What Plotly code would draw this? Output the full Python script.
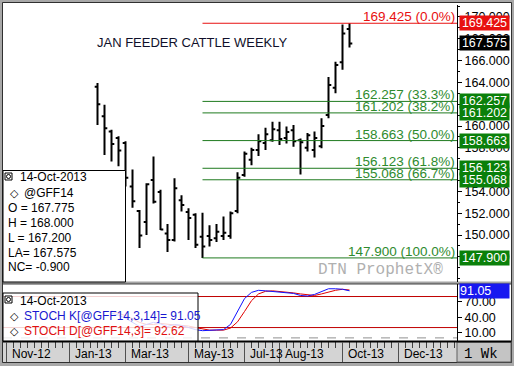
import plotly.graph_objects as go

W, H = 514, 366
def px(x): return x / W
def py(y): return 1 - y / H

# ---------------- data ----------------
bar_dates = ["2013-02-04", "2013-02-11", "2013-02-18", "2013-02-25", "2013-03-04", "2013-03-11",
             "2013-03-18", "2013-03-25", "2013-04-01", "2013-04-08", "2013-04-15", "2013-04-22",
             "2013-04-29", "2013-05-06", "2013-05-13", "2013-05-20", "2013-05-27", "2013-06-03",
             "2013-06-10", "2013-06-17", "2013-06-24", "2013-07-01", "2013-07-08", "2013-07-15",
             "2013-07-22", "2013-07-29", "2013-08-05", "2013-08-12", "2013-08-19", "2013-08-26",
             "2013-09-02", "2013-09-09", "2013-09-16", "2013-09-23", "2013-09-30", "2013-10-07",
             "2013-10-14"]
opens = [163.6, 160.9, 159.5, 158.9, 158.45, 154.45, 152.2, 151.2, 155.05, 153.95, 150.15, 149.55,
         153.2, 152.1, 151.85, 149.85, 149.9, 149.7, 149.9, 149.9, 152.2, 155.5, 156.9, 157.8,
         158.45, 158.7, 159.6, 158.9, 159.6, 158.7, 158.0, 157.8, 158.15, 161.0, 163.5, 165.85, 168.9]
highs = [163.95, 161.95, 159.65, 159.05, 158.6, 156.0, 152.3, 154.75, 157.2, 154.15, 151.0, 155.2,
         153.65, 152.45, 152.0, 152.05, 150.9, 151.0, 151.7, 152.15, 155.75, 157.65, 158.0, 159.25,
         159.85, 160.4, 160.4, 159.95, 160.1, 158.85, 159.35, 159.5, 160.7, 164.5, 165.9, 169.3, 169.425]
lows = [160.1, 157.35, 156.75, 156.3, 154.45, 152.5, 148.8, 150.0, 152.9, 150.45, 148.45, 149.4,
        152.15, 149.55, 148.8, 147.9, 148.95, 149.35, 149.55, 149.65, 152.0, 155.35, 156.4, 157.25,
        157.8, 158.55, 158.25, 158.4, 158.1, 155.55, 157.65, 157.1, 157.95, 160.7, 163.0, 165.15, 167.2]
closes = [162.0, 159.8, 158.35, 157.75, 155.25, 153.1, 149.95, 154.65, 153.05, 150.5, 149.55, 154.3,
          152.75, 151.55, 149.1, 148.95, 149.55, 150.3, 150.2, 152.0, 155.25, 157.45, 157.8, 158.6,
          159.25, 159.7, 158.8, 159.45, 158.6, 158.5, 159.15, 158.9, 160.0, 163.75, 165.6, 168.475, 167.575]

stoch_k = [None, None, 48, 44, 38, 30, 22, 26, 30, 27, 22, 26, 24, 20, 16, 14, 15, 15, 16, 26,
           52, 76, 88, 92, 91, 90, 88, 87, 86, 82, 81, 84, 89, 95, 95, 94, 91.05]
stoch_d = [None, None, 52, 48, 43, 37, 30, 26, 26, 28, 26, 25, 24, 23, 20, 17, 15, 15, 15, 19,
           31, 51, 72, 85, 90, 91, 90, 88, 87, 85, 83, 82, 85, 89, 92, 94, 92.62]

fib_low_date = "2013-05-20"
fib_levels = [169.425, 162.257, 161.202, 158.663, 156.123, 155.068, 147.900]
fib_pcts = ["0.0%", "33.3%", "38.2%", "50.0%", "61.8%", "66.7%", "100.0%"]
last_price = 167.575

price_ticks = [148, 150, 152, 154, 156, 158, 160, 162, 164, 166, 168, 170]
stoch_ticks = [10, 40, 70]
stoch_bands = [20, 80]

month_dates = ["2012-11-05", "2013-01-07", "2013-03-04", "2013-05-06", "2013-07-01",
               "2013-08-05", "2013-10-07", "2013-12-02"]
month_labels = ["Nov-12", "Jan-13", "Mar-13", "May-13", "Jul-13", "Aug-13", "Oct-13", "Dec-13"]

info_date = "14-Oct-2013"
symbol = "@GFF14"
info_lines = ["O = 167.775", "H = 168.000", "L = 167.200", "LA= 167.575", "NC= -0.900"]
stoch_k_label = "STOCH K[@GFF14,3,14]= 91.05"
stoch_d_label = "STOCH D[@GFF14,3]= 92.62"

x_range = ["2012-11-01 12:00", "2014-01-29 12:00"]
price_range = [145.69, 171.10]
stoch_range = [-6.0, 104.2]

# ---------------- figure ----------------
SANS = "Liberation Sans, Arial, sans-serif"
MONO = "Liberation Mono, DejaVu Sans Mono, monospace"
GREEN_TXT = "#2e8b2e"
GREEN_LINE = "#1f7a1f"
GREEN_BOX = "#0a800a"
RED = "#e81010"

fig = go.Figure()
fig.add_trace(go.Ohlc(
    x=bar_dates, open=opens, high=highs, low=lows, close=closes,
    increasing=dict(line=dict(color="black", width=2)),
    decreasing=dict(line=dict(color="black", width=2)),
    tickwidth=0.4, xaxis="x", yaxis="y", hoverinfo="skip", showlegend=False))
fig.add_trace(go.Scatter(x=bar_dates, y=stoch_d, mode="lines", line=dict(color="#e00000", width=1),
                         xaxis="x2", yaxis="y2", hoverinfo="skip", showlegend=False))
fig.add_trace(go.Scatter(x=bar_dates, y=stoch_k, mode="lines", line=dict(color="#1010ff", width=1),
                         xaxis="x2", yaxis="y2", hoverinfo="skip", showlegend=False))

shapes = []
# frame / backgrounds
shapes.append(dict(type="rect", xref="paper", yref="paper", x0=px(3), x1=px(511), y0=py(341), y1=py(3),
                   fillcolor="white", line=dict(width=0), layer="below"))
shapes.append(dict(type="rect", xref="paper", yref="paper", x0=px(2.5), x1=px(511.5), y0=py(362.5), y1=py(2.5),
                   fillcolor="rgba(0,0,0,0)", line=dict(color="#303030", width=1), layer="below"))
shapes.append(dict(type="rect", xref="paper", yref="paper", x0=px(3), x1=px(511), y0=py(284), y1=py(281.5),
                   fillcolor="#a4a4a4", line=dict(width=0), layer="below"))
shapes.append(dict(type="line", xref="paper", yref="paper", x0=px(3), x1=px(511), y0=py(284), y1=py(284),
                   line=dict(color="#404040", width=1), layer="below"))
shapes.append(dict(type="rect", xref="paper", yref="paper", x0=px(3), x1=px(511), y0=py(362), y1=py(342),
                   fillcolor="#d4d4d4", line=dict(width=0), layer="below"))
shapes.append(dict(type="rect", xref="paper", yref="paper", x0=px(457), x1=px(511), y0=py(362), y1=py(342),
                   fillcolor="#c4c4c4", line=dict(color="#606060", width=1), layer="below"))
shapes.append(dict(type="rect", xref="paper", yref="paper", x0=px(3), x1=px(511), y0=py(342.5), y1=py(340.5),
                   fillcolor="black", line=dict(width=0), layer="above"))
# month separators
for d in month_dates:
    shapes.append(dict(type="line", xref="x2", yref="paper", x0=d, x1=d, y0=py(362), y1=py(342),
                       line=dict(color="#505050", width=1), layer="above"))
# fib lines
for lvl, pct in zip(fib_levels, fib_pcts):
    shapes.append(dict(type="line", xref="x", yref="y", x0=fib_low_date, x1=x_range[1], y0=lvl, y1=lvl,
                       line=dict(color=RED if pct == "0.0%" else GREEN_LINE, width=1), layer="above"))
# stoch bands and zero dashed line
for b in stoch_bands:
    shapes.append(dict(type="line", xref="paper", yref="y2", x0=px(3), x1=px(457), y0=b, y1=b,
                       line=dict(color="#c00000", width=1), layer="below"))
shapes.append(dict(type="line", xref="paper", yref="y2", x0=px(3), x1=px(457), y0=0, y1=0,
                   line=dict(color="#909090", width=1, dash="dash"), layer="below"))
# info box
shapes.append(dict(type="rect", xref="paper", yref="paper", x0=px(3), x1=px(125.5), y0=py(282), y1=py(170.5),
                   fillcolor="white", line=dict(color="black", width=1), layer="above"))
shapes.append(dict(type="rect", xref="paper", yref="paper", x0=px(5), x1=px(12), y0=py(180), y1=py(173),
                   fillcolor="white", line=dict(color="black", width=1), layer="above"))
shapes.append(dict(type="circle", xref="paper", yref="paper", x0=px(6.5), x1=px(10.5), y0=py(178.5), y1=py(174.5),
                   fillcolor="white", line=dict(color="black", width=1), layer="above"))
# stoch legend box
shapes.append(dict(type="rect", xref="paper", yref="paper", x0=px(3), x1=px(198), y0=py(341), y1=py(293),
                   fillcolor="rgba(255,255,255,0.82)", line=dict(color="black", width=1), layer="above"))
shapes.append(dict(type="rect", xref="paper", yref="paper", x0=px(5), x1=px(12), y0=py(303), y1=py(296),
                   fillcolor="white", line=dict(color="black", width=1), layer="above"))
shapes.append(dict(type="circle", xref="paper", yref="paper", x0=px(6.5), x1=px(10.5), y0=py(301.5), y1=py(297.5),
                   fillcolor="white", line=dict(color="black", width=1), layer="above"))

ann = []
def text(x, y, s, size=12, color="black", family=SANS, xanchor="left", **kw):
    ann.append(dict(xref="paper", yref="paper", x=px(x), y=py(y), text=s, showarrow=False,
                    xanchor=xanchor, yanchor="middle", font=dict(family=family, size=size, color=color), **kw))

# title and watermark
text(192.5, 42.5, "JAN FEEDER CATTLE WEEKLY", size=13, color="#10102a", xanchor="center")
text(380, 270, "DTN ProphetX®", size=16, color="#b0b0b0", family=MONO, xanchor="center")
text(481, 353.5, "1 Wk", size=14, color="black", family=MONO, xanchor="center")

# fib labels
for lvl, pct in zip(fib_levels, fib_pcts):
    col = RED if pct == "0.0%" else GREEN_TXT
    ann.append(dict(xref="paper", yref="y", x=px(455.5), y=lvl, text=f"{lvl:.3f} ({pct})", showarrow=False,
                    xanchor="right", yanchor="bottom", yshift=-2, borderpad=0,
                    font=dict(family=SANS, size=13.5, color=col)))
# right value boxes
box_items = [(lvl, RED if pct == "0.0%" else GREEN_BOX) for lvl, pct in zip(fib_levels, fib_pcts)]
box_items.insert(1, (last_price, "black"))
for lvl, col in box_items:
    ann.append(dict(xref="paper", yref="y", x=px(459), y=lvl, text=f"{lvl:.3f}", showarrow=False,
                    xanchor="left", yanchor="middle", bgcolor=col, borderpad=0, width=49,
                    font=dict(family=SANS, size=12.5, color="white")))
ann.append(dict(xref="paper", yref="y2", x=px(459), y=stoch_k[-1], text=f"{stoch_k[-1]:.2f}", showarrow=False,
                xanchor="left", yanchor="middle", bgcolor="#1818f0", borderpad=0, width=49, align="left",
                font=dict(family=SANS, size=12.5, color="white")))

# info box text
text(18, 177.3, info_date)
text(8, 192.7, "◇", size=11)
text(22, 192.7, symbol)
for i, s in enumerate(info_lines):
    text(6, 208.2 + i * 14.8, s)
# stoch legend text
text(18, 300.7, info_date)
text(8, 316, "◇", size=11)
text(22, 316, stoch_k_label, color="#1818d0")
text(8, 330.7, "◇", size=11)
text(22, 330.7, stoch_d_label, color="#e01010")

# month labels
for d, s in zip(month_dates, month_labels):
    ann.append(dict(xref="x2", yref="paper", x=d, y=py(353.5), text=s, showarrow=False, xanchor="left",
                    yanchor="middle", xshift=3, font=dict(family=SANS, size=12, color="black")))

axis_font = dict(family=SANS, size=12.5, color="black")
fig.update_layout(
    width=W, height=H, margin=dict(l=0, r=0, t=0, b=0),
    paper_bgcolor="#a8a8a8", plot_bgcolor="rgba(0,0,0,0)",
    showlegend=False, shapes=shapes, annotations=ann,
    xaxis=dict(domain=[px(3), px(457)], range=x_range, type="date", anchor="y",
               showticklabels=False, showgrid=False, zeroline=False, ticks="",
               rangeslider=dict(visible=False), fixedrange=True),
    yaxis=dict(domain=[py(282), py(5)], range=price_range, side="right", anchor="x",
               tickvals=price_ticks, ticktext=[f"{v:.3f}" for v in price_ticks],
               ticks="outside", ticklen=4, tickcolor="black", showline=True, linecolor="black",
               showgrid=False, zeroline=False, tickfont=axis_font,
               minor=dict(dtick=1, ticks="outside", ticklen=2, tickcolor="black")),
    xaxis2=dict(domain=[px(3), px(457)], range=x_range, type="date", anchor="y2", matches="x",
                showticklabels=False, showgrid=False, zeroline=False,
                ticks="outside", ticklen=6, tickcolor="#404040", dtick=7 * 86400000, tick0="2012-11-05"),
    yaxis2=dict(domain=[py(341), py(284)], range=stoch_range, side="right", anchor="x2",
                tickvals=stoch_ticks, ticktext=[f"{v:.2f}" for v in stoch_ticks],
                ticks="outside", ticklen=4, tickcolor="black", showline=True, linecolor="black",
                showgrid=False, zeroline=False, tickfont=axis_font),
)
fig.write_html("out.html", config={"displayModeBar": False},
               post_script="document.body.style.margin='0';document.body.style.overflow='hidden';")
